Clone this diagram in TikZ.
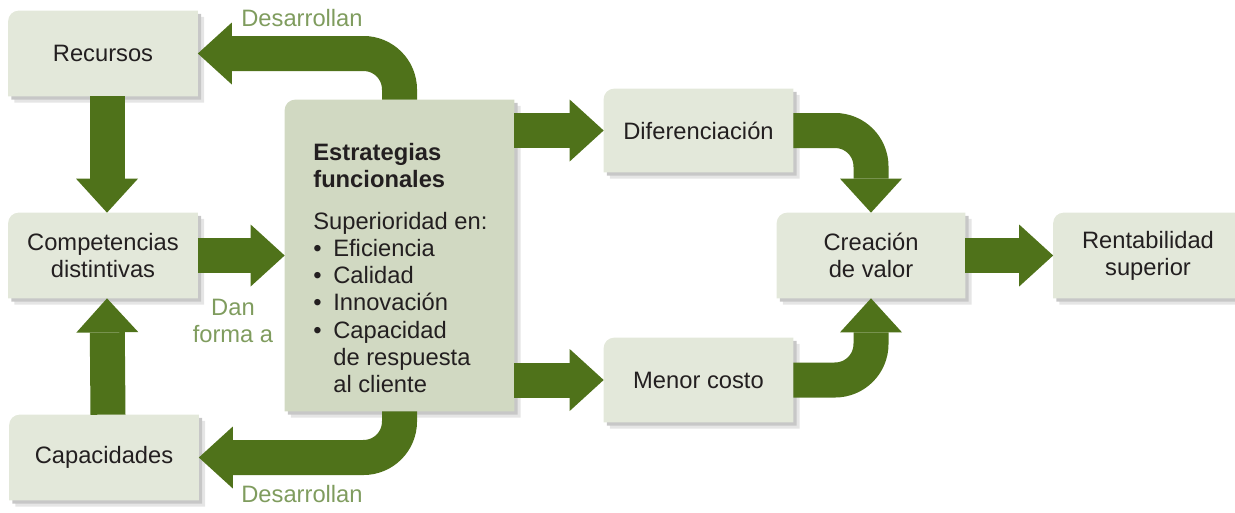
\documentclass[tikz,border=0pt]{standalone}
\usepackage{fontspec}
\setmainfont{Liberation Sans}
\usetikzlibrary{arrows.meta,backgrounds}

\definecolor{arrowgreen}{RGB}{79,114,26}
\definecolor{boxgreen}{RGB}{227,232,218}
\definecolor{maingreen}{RGB}{209,217,194}
\definecolor{labelgreen}{RGB}{127,156,94}
\definecolor{textgray}{RGB}{35,31,32}

% box outline with the top left corner rounded, shifted by #3
\newcommand{\panelshape}[3]{%
	\fill[#2] ([shift={(#3,-#3)}]#1.south west) -- ([shift={(#3,-#3-6pt)}]#1.north west)
		arc[start angle=180,end angle=90,radius=6pt] -- ([shift={(#3,-#3)}]#1.north east)
		-- ([shift={(#3,-#3)}]#1.south east) -- cycle;}
\newcommand{\panel}[2]{%
	\panelshape{#1}{black!10}{3.5pt}%
	\panelshape{#1}{black!22}{1.8pt}%
	\panelshape{#1}{#2}{0pt}}
\newcommand{\itm}{\makebox[0.4cm][l]{\textbullet}}

\begin{document}
\begin{tikzpicture}[
		box/.style={minimum width=3.78cm, minimum height=1.7cm, align=center, text=textgray, font=\fontsize{13.5}{15.5}\selectfont},
		lbl/.style={text=labelgreen, align=center, font=\fontsize{13.5}{15.5}\selectfont},
		bigarrow/.style={draw=arrowgreen, line width=0.7cm, rounded corners=0.72cm, -{Triangle[width=1.24cm,length=0.68cm,line width=0pt]}}
	]
		\useasboundingbox (0,0) rectangle (24.7,-10.24);
		
		% Boxes
			\node[box] (rec) at (2.06,-1.07) {Recursos};
			\node[box] (comp) at (2.06,-5.11) {Competencias\\distintivas};
			\node[box] (cap) at (2.08,-9.15) {Capacidades};
			\node[box, minimum width=4.58cm, minimum height=6.22cm] (cen) at (7.99,-5.11) {};
			\node[box, anchor=north west, inner sep=0pt, minimum width=0pt, minimum height=0pt, align=left] (fun) at (6.26,-2.86)
				{\textbf{Estrategias}\\\textbf{funcionales}\\[8pt]
				Superioridad en:\\
				\itm Eficiencia\\
				\itm Calidad\\
				\itm Innovación\\
				\itm Capacidad\\
				\hspace*{0.4cm}de respuesta\\
				\hspace*{0.4cm}al cliente};
			\node[box, minimum height=1.66cm] (dif) at (13.97,-2.61) {Diferenciación};
			\node[box, minimum height=1.68cm] (men) at (13.97,-7.6) {Menor costo};
			\node[box, minimum width=3.76cm] (cre) at (17.42,-5.11) {Creación\\de valor};
			\node[box] (ren) at (22.96,-5.11) {Rentabilidad\\superior};
			
			\begin{scope}[on background layer]
				\panel{rec}{boxgreen}
				\panel{comp}{boxgreen}
				\panel{cap}{boxgreen}
				\panel{cen}{maingreen}
				\panel{dif}{boxgreen}
				\panel{men}{boxgreen}
				\panel{cre}{boxgreen}
				\panel{ren}{boxgreen}
			\end{scope}
		
		% Arrows
			\draw[bigarrow] ([xshift=0.08cm]rec.south) -- ([xshift=0.08cm]comp.north);
			\draw[bigarrow] ([xshift=0.08cm]cap.north) -- ([xshift=0.08cm]comp.south);
			\draw[bigarrow] (comp.east) -- (cen.west);
			\draw[bigarrow] (cen.north) |- (rec.east);
			\draw[bigarrow] (cen.south) |- (cap.east);
			\draw[bigarrow] (cen.east |- dif.west) -- (dif.west);
			\draw[bigarrow] (cen.east |- men.west) -- (men.west);
			\draw[bigarrow] (dif.east) -| (cre.north);
			\draw[bigarrow] (men.east) -| (cre.south);
			\draw[bigarrow] (cre.east) -- (ren.west);
			
			\node[lbl] (dev1) at (6.04,-0.37) {Desarrollan};
			\node[lbl] (dev2) at (6.04,-9.89) {Desarrollan};
			\node[lbl] (dan) at (4.66,-6.42) {Dan\\forma a};
			
		\end{tikzpicture}
\end{document}
